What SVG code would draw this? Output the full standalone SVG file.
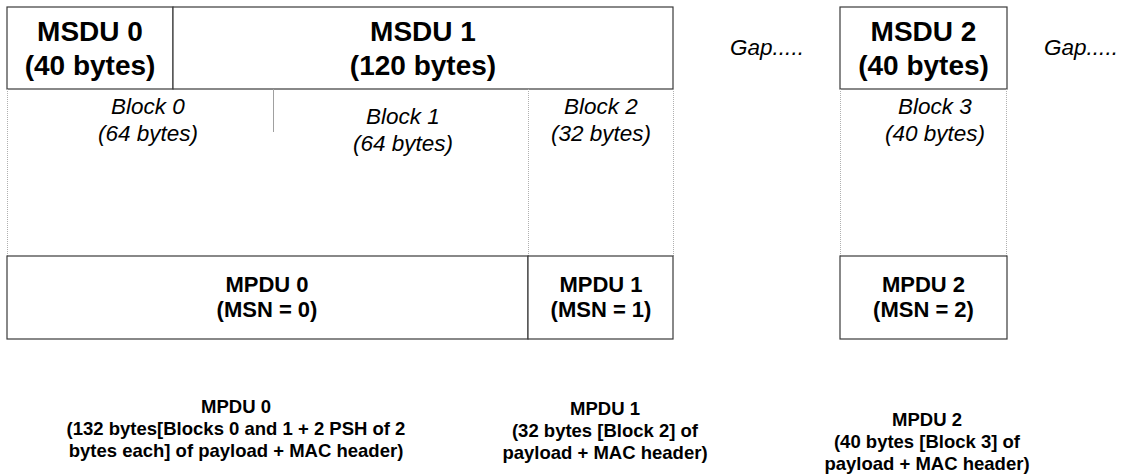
<svg xmlns="http://www.w3.org/2000/svg" width="1121" height="474" viewBox="0 0 1121 474">
<style>
  .box { fill: #ffffff; stroke: #3a3a3a; stroke-width: 1.2; }
  .sep { stroke: #3a3a3a; stroke-width: 1.2; }
  .dot { stroke: #b0b0b0; stroke-width: 1; stroke-dasharray: 1 1; fill: none; }
  .thin { stroke: #a0a0a0; stroke-width: 1; }
  .hdr { font-family: "Liberation Sans", Arial, sans-serif; font-weight: bold; font-size: 28px; fill: #000; text-anchor: middle; }
  .mpdu { font-family: "Liberation Sans", Arial, sans-serif; font-weight: bold; font-size: 22px; fill: #000; text-anchor: middle; }
  .note { font-family: "Liberation Sans", Arial, sans-serif; font-weight: bold; font-size: 18.5px; fill: #000; text-anchor: middle; }
  .blk { font-family: "Liberation Sans", Arial, sans-serif; font-style: italic; font-size: 22.5px; fill: #000; text-anchor: middle; }
</style>
<rect width="1121" height="474" fill="#ffffff"/>

<g id="connectors"></g>

<g id="msdu0">
  <rect class="box" x="7" y="7" width="166" height="82"/>
  <text class="hdr" x="90" y="41">MSDU 0</text>
  <text class="hdr" x="90" y="75">(40 bytes)</text>
</g>
<g id="msdu1">
  <rect class="box" x="173" y="7" width="500" height="82"/>
  <text class="hdr" x="423" y="41">MSDU 1</text>
  <text class="hdr" x="423" y="75">(120 bytes)</text>
</g>
<g id="gap1">
  <text class="blk" x="767" y="55">Gap.....</text>
</g>
<g id="msdu2">
  <rect class="box" x="840" y="7" width="167" height="82"/>
  <text class="hdr" x="923.5" y="41">MSDU 2</text>
  <text class="hdr" x="923.5" y="75">(40 bytes)</text>
</g>
<g id="gap2">
  <text class="blk" x="1081" y="55">Gap.....</text>
</g>

<g id="block0">
  <line class="dot" x1="7.5" y1="89" x2="7.5" y2="256"/>
  <line class="thin" x1="273.5" y1="89" x2="273.5" y2="132"/>
  <text class="blk" x="148" y="114">Block 0</text>
  <text class="blk" x="148" y="141">(64 bytes)</text>
</g>
<g id="block1">
  <line class="dot" x1="528.5" y1="89" x2="528.5" y2="256"/>
  <text class="blk" x="403" y="124">Block 1</text>
  <text class="blk" x="403" y="151">(64 bytes)</text>
</g>
<g id="block2">
  <line class="dot" x1="673.5" y1="89" x2="673.5" y2="256"/>
  <text class="blk" x="601" y="114">Block 2</text>
  <text class="blk" x="601" y="141">(32 bytes)</text>
</g>
<g id="block3">
  <line class="dot" x1="840.5" y1="89" x2="840.5" y2="256"/>
  <line class="dot" x1="1006.5" y1="89" x2="1006.5" y2="256"/>
  <text class="blk" x="935" y="114">Block 3</text>
  <text class="blk" x="935" y="141">(40 bytes)</text>
</g>

<g id="mpdu0">
  <rect class="box" x="7" y="256" width="521" height="83"/>
  <text class="mpdu" x="267" y="292">MPDU 0</text>
  <text class="mpdu" x="267" y="317">(MSN = 0)</text>
</g>
<g id="mpdu1">
  <rect class="box" x="528" y="256" width="145" height="83"/>
  <text class="mpdu" x="601" y="292">MPDU 1</text>
  <text class="mpdu" x="601" y="317">(MSN = 1)</text>
</g>
<g id="mpdu2">
  <rect class="box" x="840" y="256" width="167" height="83"/>
  <text class="mpdu" x="923.5" y="292">MPDU 2</text>
  <text class="mpdu" x="923.5" y="317">(MSN = 2)</text>
</g>

<g id="note0">
  <text class="note" x="236" y="413">MPDU 0</text>
  <text class="note" x="236" y="435">(132 bytes[Blocks 0 and 1 + 2 PSH of 2</text>
  <text class="note" x="236" y="457">bytes each] of payload + MAC header)</text>
</g>
<g id="note1">
  <text class="note" x="605" y="415">MPDU 1</text>
  <text class="note" x="605" y="437">(32 bytes [Block 2] of</text>
  <text class="note" x="605" y="459">payload + MAC header)</text>
</g>
<g id="note2">
  <text class="note" x="927" y="426">MPDU 2</text>
  <text class="note" x="927" y="448">(40 bytes [Block 3] of</text>
  <text class="note" x="927" y="470">payload + MAC header)</text>
</g>
</svg>
